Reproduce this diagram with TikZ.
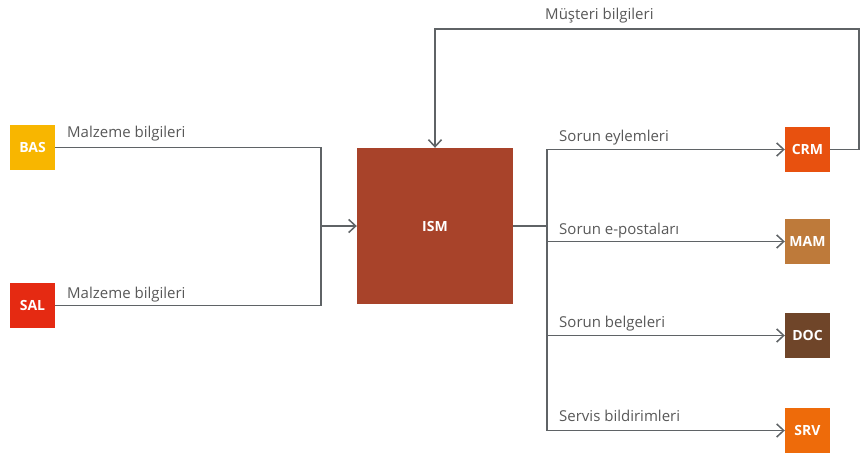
\documentclass[tikz,border=0pt]{standalone}
\usepackage{fontspec}
\setmainfont{Open Sans}
\usetikzlibrary{arrows.meta}
\definecolor{BasYellow}{RGB}{248,182,0}
\definecolor{SalRed}{RGB}{229,42,18}
\definecolor{IsmBrown}{RGB}{168,67,42}
\definecolor{CrmOrange}{RGB}{232,81,15}
\definecolor{MamTan}{RGB}{190,122,58}
\definecolor{DocBrown}{RGB}{111,69,41}
\definecolor{SrvOrange}{RGB}{238,107,10}
\definecolor{LineGray}{RGB}{95,99,102}
\definecolor{TextGray}{RGB}{88,88,88}

\begin{document}
\begin{tikzpicture}[x=1pt, y=-1pt,
		sys/.style={fill=#1, text=white, font=\bfseries\fontsize{14}{16}\selectfont, minimum size=45pt, inner sep=0pt},
		wire/.style={LineGray, line width=1.5pt},
		flow/.style={wire, -{Straight Barb[length=7pt, width=13pt]}},
		lbl/.style={TextGray, font=\fontsize{15}{17}\selectfont, anchor=west, inner sep=0pt}]
	\useasboundingbox (0,0) rectangle (867,458);
	% sources
	\node[sys=BasYellow] (bas) at (32.5,147.5) {BAS};
	\node[sys=SalRed] (sal) at (32.5,305.5) {SAL};
	% hub
	\node[sys=IsmBrown, minimum size=156pt] (ism) at (435,226) {ISM};
	% targets
	\node[sys=CrmOrange] (crm) at (807.5,149.5) {CRM};
	\node[sys=MamTan] (mam) at (807.5,241.5) {MAM};
	\node[sys=DocBrown] (doc) at (807.5,335.5) {DOC};
	\node[sys=SrvOrange] (srv) at (807.5,430.5) {SRV};
	\coordinate (join) at (321,226);
	\coordinate (split) at (547,226);
	\coordinate (loop) at (859,29);
	% connectors
	\draw[wire] (sal.east) -| (join);
	\draw[flow] (bas.east) -| (join) -- (ism.west);
	\draw[wire] (ism.east) -- (split);
	\draw[flow] (split) |- (crm.west);
	\draw[flow] (split) |- (mam.west);
	\draw[flow] (split) |- (doc.west);
	\draw[flow] (split) |- (srv.west);
	\draw[flow] (crm.east) -| (loop) -| (ism.north);
	% labels
	\node[lbl] (lbas) at (67,133.5) {Malzeme bilgileri};
	\node[lbl] (lsal) at (67,294.5) {Malzeme bilgileri};
	\node[lbl] (lcrm) at (559,137.5) {Sorun eylemleri};
	\node[lbl] (lmam) at (559,230.5) {Sorun e-postaları};
	\node[lbl] (ldoc) at (559,323.5) {Sorun belgeleri};
	\node[lbl] (lsrv) at (559,415.5) {Servis bildirimleri};
	\node[lbl] (lloop) at (545,15.5) {Müşteri bilgileri};
\end{tikzpicture}
\end{document}
